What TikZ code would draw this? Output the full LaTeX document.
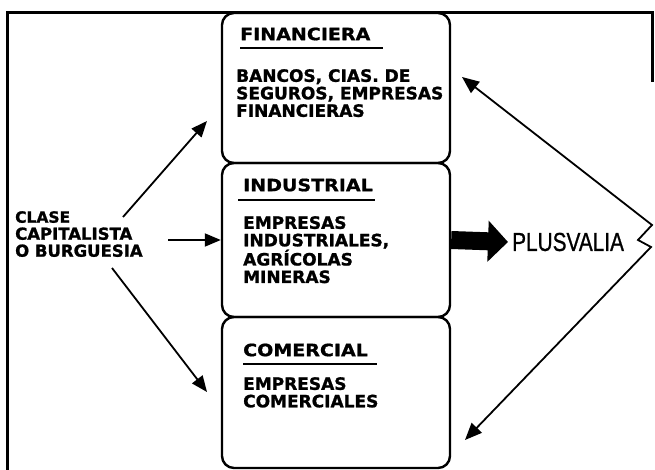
\documentclass[tikz,border=0pt]{standalone}
\usepackage{fontspec}
\usetikzlibrary{arrows.meta}
\newfontfamily\handB[FakeStretch=1.0,FakeBold=1.2]{DejaVu Sans}
\newfontfamily\handT[FakeStretch=1.12,FakeBold=1.0]{DejaVu Sans}
\newfontfamily\plusfont[FakeStretch=0.8,FakeBold=0.8]{Liberation Sans}
\begin{document}
\begin{tikzpicture}[x=1pt,y=-1pt,
  box/.style={draw, line width=2.4pt, rounded corners=12pt, minimum width=228pt, inner sep=0pt},
  titletext/.style={anchor=west, inner sep=0pt, font=\handT\bfseries\fontsize{17}{17}\selectfont},
  bodytext/.style={anchor=north west, inner sep=0pt, align=left, font=\handB\bfseries\fontsize{17}{17.5}\selectfont},
  uline/.style={line width=2pt},
  thinarrow/.style={line width=1.8pt, -{Triangle[length=16pt,width=13pt]}},
  framepen/.style={line width=3pt}
  ]
\useasboundingbox (0,0) rectangle (655,470);
% frame
\draw[framepen] (652,82) -- (652,13) -- (7,13) -- (7,470);
% boxes
\node[box, minimum height=150pt] (fin) at (336,88) {};
\node[box, minimum height=154pt] (ind) at (336,240) {};
\node[box, minimum height=151pt] (com) at (336,392.5) {};
% titles
\node[titletext] (tfin) at (240,34) {FINANCIERA};
\draw[uline] (240,48) -- (383,48);
\node[titletext] (tind) at (243,185) {INDUSTRIAL};
\draw[uline] (238,200) -- (375,200);
\node[titletext] (tcom) at (243,350) {COMERCIAL};
\draw[uline] (243,364) -- (377,364);
% bodies
\node[bodytext] (bfin) at (236,69) {BANCOS, CIAS. DE\\SEGUROS, EMPRESAS\\FINANCIERAS};
\node[bodytext] (bind) at (243,216) {EMPRESAS\\INDUSTRIALES,\\AGRÍCOLAS\\MINERAS};
\node[bodytext] (bcom) at (243,377) {EMPRESAS\\COMERCIALES};
% left label
\node[bodytext, font=\handB\bfseries\fontsize{16.5}{17}\selectfont] (clase) at (15,211) {{\fontsize{15.5}{17}\selectfont CLASE}\\CAPITALISTA\\O BURGUESIA};
% left arrows
\coordinate (a1s) at (123,217);
\coordinate (a1e) at (207,121);
\coordinate (a2s) at (168,240);
\coordinate (a3s) at (112,268);
\coordinate (a3e) at (207,392);
\draw[thinarrow] (a1s) -- (a1e);
\draw[thinarrow] (a2s) -- (ind.west);
\draw[thinarrow] (a3s) -- (a3e);
% plusvalia
\node[anchor=west, inner sep=0pt, font=\plusfont\fontsize{26}{26}\selectfont] (plus) at (512,242) {PLUSVALIA};
\draw[line width=18pt, -{Triangle[length=20pt,width=40pt]}] (ind.east) -- ([xshift=-4pt]plus.west);
% right arrows
\coordinate (r1) at (462,77);
\coordinate (z1) at (652,225);
\coordinate (z2) at (638,240);
\coordinate (z3) at (651,247);
\coordinate (r2) at (465,440);
\draw[line width=1.8pt, line join=miter, {Triangle[length=17pt,width=14pt]}-{Triangle[length=17pt,width=14pt]}] (r1) -- (z1) -- (z2) -- (z3) -- (r2);
\end{tikzpicture}
\end{document}
